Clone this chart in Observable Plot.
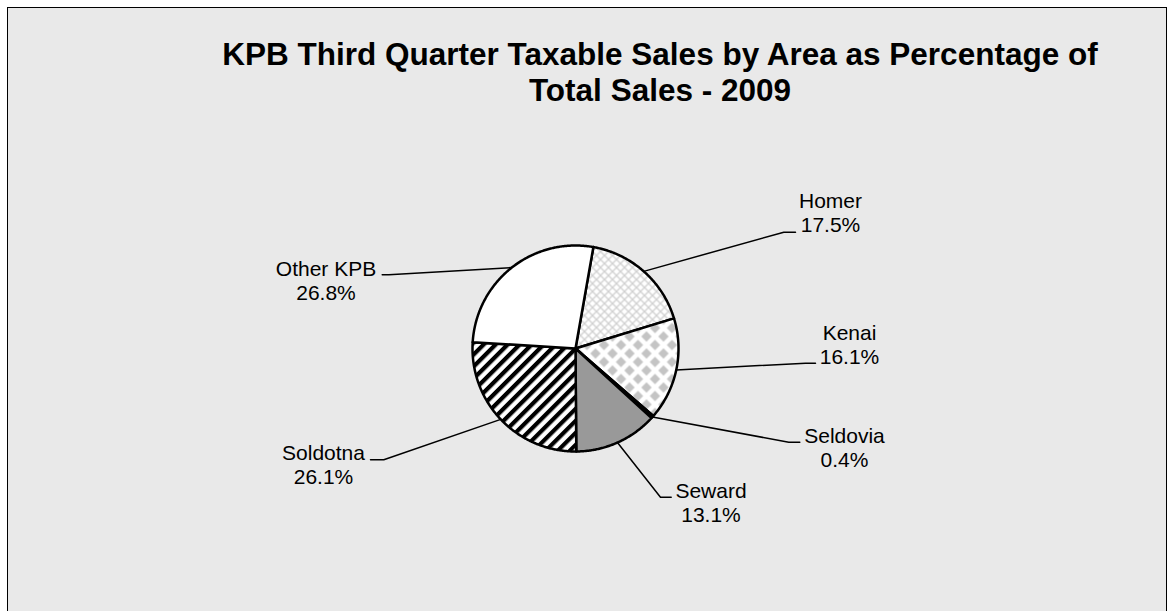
<!DOCTYPE html>
<html><head><meta charset="utf-8">
<script src="https://cdn.jsdelivr.net/npm/d3@7"></script>
<script src="https://cdn.jsdelivr.net/npm/@observablehq/plot@0.6"></script>
<style>
html,body{margin:0;padding:0;background:#fff;}
#frame{position:absolute;left:7px;top:7px;width:1158px;height:700px;border:1.5px solid #000;background:#e9e9e9;}
#chart{position:absolute;left:0;top:0;width:1172px;}
#title{box-sizing:border-box;height:115px;padding:35.5px 0 0 148px;width:1172px;text-align:center;font:bold 31.5px "Liberation Sans",Arial,sans-serif;line-height:36.7px;color:#000;}
</style></head><body>
<div id="frame"></div>
<div id="chart"><div id="title">KPB Third Quarter Taxable Sales by Area as Percentage of<br>Total Sales - 2009</div></div>
<script>
// ---- data ----
const areas = ["Homer", "Kenai", "Seldovia", "Seward", "Soldotna", "Other KPB"];
const shares = [17.5, 16.1, 0.4, 13.1, 26.1, 26.8];
const shareLabels = ["17.5%", "16.1%", "0.4%", "13.1%", "26.1%", "26.8%"];

// ---- layout / style (kept apart from data) ----
const firstSliceAngle = 10; // degrees, clockwise from 12 o'clock
const R = 103, CX = 575, CY = 233;
const fills = {
  "Homer": "url(#pHomer)", "Kenai": "url(#pKenai)", "Seldovia": "#000",
  "Seward": "#999999", "Soldotna": "url(#pSold)", "Other KPB": "#ffffff"
};
// label placement as pixel offsets from pie centre: text anchor (tx,ty), leader elbow (ex,ey), tick end kx
const labelLayout = {
  "Homer":     {tx: 255,    ty: -116.3, ex: 208.3,  ey: -116.3, kx: 220},
  "Kenai":     {tx: 274,    ty: 15.3,   ex: 230,    ey: 14.7,   kx: 240},
  "Seldovia":  {tx: 269,    ty: 118.7,  ex: 213.3,  ey: 93.7,   kx: 224.3},
  "Seward":    {tx: 135.5,  ty: 173.7,  ex: 85,     ey: 148.7,  kx: 95.7},
  "Soldotna":  {tx: -252,   ty: 135.3,  ex: -191.7, ey: 111.3,  kx: -205},
  "Other KPB": {tx: -249.5, ty: -48.7,  ex: -186.7, ey: -73.7,  kx: -193.3}
};

// ---- build geometry from data ----
const rows = areas.map((a, i) => ({area: a, share: shares[i], label: shareLabels[i]}));
const a0 = firstSliceAngle * Math.PI / 180;
const arcs = d3.pie().sort(null).value(d => d.share).startAngle(a0).endAngle(a0 + 2 * Math.PI)(rows);

const pt = (ang) => [Math.sin(ang), Math.cos(ang)];
const sliceFeatures = arcs.map(a => {
  const coords = [[0, 0]];
  const n = Math.max(2, Math.ceil((a.endAngle - a.startAngle) / (Math.PI / 360)));
  for (let k = 0; k <= n; k++) coords.push(pt(a.startAngle + (a.endAngle - a.startAngle) * k / n));
  coords.push([0, 0]);
  return {type: "Feature", properties: {area: a.data.area}, geometry: {type: "Polygon", coordinates: [coords]}};
});

const px = (dx, dy) => [dx / R, -dy / R];
const leaderFeatures = arcs.map(a => {
  const L = labelLayout[a.data.area];
  const mid = (a.startAngle + a.endAngle) / 2;
  return {type: "Feature", properties: {area: a.data.area}, geometry: {type: "LineString",
    coordinates: [pt(mid), px(L.ex, L.ey), px(L.kx, L.ey)]}};
});
const textRows = arcs.map(a => {
  const L = labelLayout[a.data.area];
  const [x, y] = px(L.tx, L.ty);
  return {x, y, text: a.data.area + "\n" + a.data.label};
});

const projection = d3.geoIdentity().reflectY(true).scale(R).translate([CX, CY]);

const svg = Plot.plot({
  width: 1172,
  height: 496,
  margin: 0,
  projection,
  style: {background: "transparent", overflow: "visible"},
  marks: [
    ...sliceFeatures.map(f => Plot.geo([f], {fill: fills[f.properties.area], stroke: "#000", strokeWidth: 2.5, strokeLinejoin: "round"})),
    Plot.geo(leaderFeatures, {fill: "none", stroke: "#000", strokeWidth: 1.5}),
    Plot.text(textRows, {x: "x", y: "y", text: "text", lineAnchor: "bottom", lineHeight: 1.143,
      textAnchor: "middle", fontSize: 21, fontFamily: "Liberation Sans, Arial, sans-serif", fill: "#000"})
  ]
});

const defs = document.createElementNS("http://www.w3.org/2000/svg", "defs");
defs.innerHTML = `
<pattern id="pHomer" patternUnits="userSpaceOnUse" width="8" height="8">
  <rect width="8" height="8" fill="#fff"/>
  <path d="M0,0L8,8M8,0L0,8" stroke="#d0d0d0" stroke-width="1.3" fill="none"/>
</pattern>
<pattern id="pKenai" patternUnits="userSpaceOnUse" width="17" height="17">
  <rect width="17" height="17" fill="#fff"/>
  <path d="M8.5,3.3L13.7,8.5L8.5,13.7L3.3,8.5Z M0,-5.2L5.2,0L0,5.2L-5.2,0Z M17,-5.2L22.2,0L17,5.2L11.8,0Z M0,11.8L5.2,17L0,22.2L-5.2,17Z M17,11.8L22.2,17L17,22.2L11.8,17Z" fill="#c4c4c4"/>
</pattern>
<pattern id="pSold" patternUnits="userSpaceOnUse" width="8.5" height="8.5" patternTransform="rotate(45)">
  <rect width="8.5" height="8.5" fill="#fff"/>
  <rect width="4.2" height="8.5" fill="#000"/>
</pattern>`;
svg.insertBefore(defs, svg.firstChild);
document.getElementById("chart").appendChild(svg);
</script>
</body></html>
